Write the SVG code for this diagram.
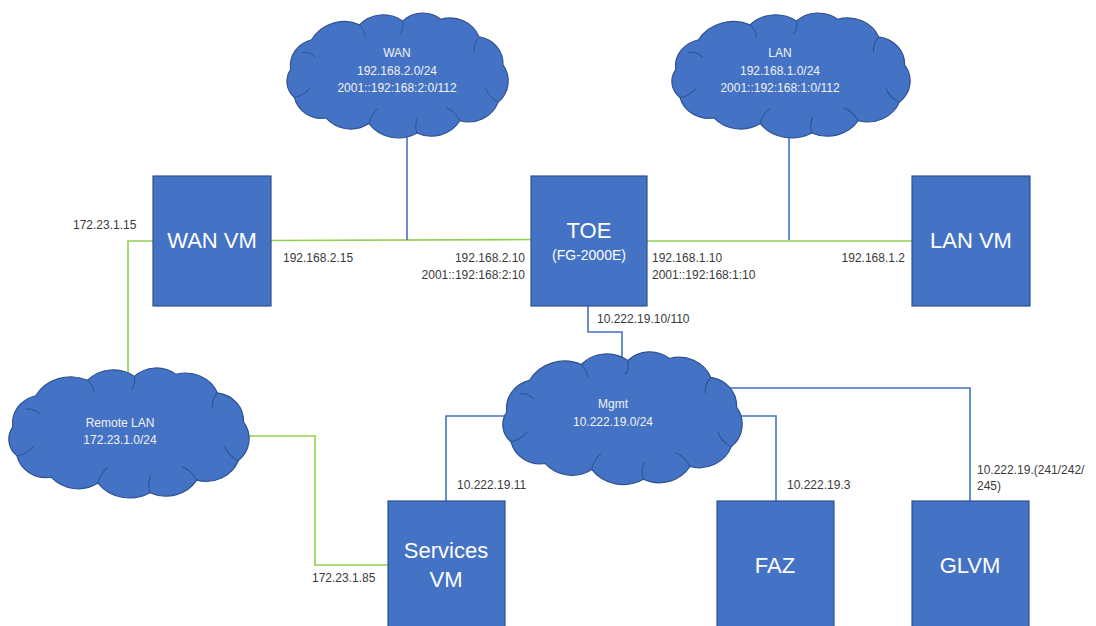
<svg xmlns="http://www.w3.org/2000/svg" width="1096" height="626" viewBox="0 0 1096 626">
<style>
.box{fill:#4472C4;stroke:#2F528F;stroke-width:1.2}
.cloud{fill:#4472C4;stroke:#2F528F;stroke-width:1.2;vector-effect:non-scaling-stroke}
.crease{fill:none;stroke:#2F528F;stroke-width:1;vector-effect:non-scaling-stroke}
.g{fill:none;stroke:#92D050;stroke-width:1.6}
.b{fill:none;stroke:#4472C4;stroke-width:1.6}
.lbl{font-family:"Liberation Sans",Arial,sans-serif;font-size:12px;fill:#3a3a3a}
.big{font-family:"Liberation Sans",Arial,sans-serif;font-size:22px;fill:#ffffff;text-anchor:middle}
.mid{font-family:"Liberation Sans",Arial,sans-serif;font-size:14px;fill:#ffffff;text-anchor:middle}
.ct{font-family:"Liberation Sans",Arial,sans-serif;font-size:12px;fill:#f2f2f2;text-anchor:middle}
</style>
<defs>
<path id="cloudShape" d="M8,60 A29,29 0 0 1 30,28 A39,39 0 0 1 80,12 A34,34 0 0 1 125,8 A30,30 0 0 1 165,6 A33,33 0 0 1 205,25 A29,29 0 0 1 230,55 A30,30 0 0 1 225,95 A33,33 0 0 1 185,115 A35,35 0 0 1 140,128 A38,38 0 0 1 90,118 A34,34 0 0 1 45,112 A29,29 0 0 1 12,90 A23,23 0 0 1 8,60 Z"/>
<path id="cloudCrease" d="M20,42 Q28,40 34,47 M12,90 Q22,88 28,80 M90,118 Q92,108 99,102 M140,128 Q137,119 141,111 M185,115 Q180,105 171,101 M225,95 Q215,90 212,80 M205,25 Q199,32 200,41 M125,8 Q127,16 122,22 M80,12 Q86,18 86,25"/>
</defs>
<rect width="1096" height="626" fill="#ffffff"/>
<g id="connectors">
<polyline class="g" points="271,240.5 531,239.5"/>
<polyline class="g" points="647,241 912,241"/>
<polyline class="b" points="407,110 407,240"/>
<polyline class="b" points="789,110 789,240"/>
<polyline class="g" points="153,241 128,241 128,400"/>
<polyline class="g" points="220,436 315,436 315,565 388,565"/>
<polyline class="b" points="588,306 588,332 622,332 622,380"/>
<polyline class="b" points="530,416 446,416 446,501"/>
<polyline class="b" points="720,388 970,388 970,501"/>
<polyline class="b" points="720,416 776,416 776,501"/>
</g>
<g id="wan-cloud">
<g transform="translate(282.9,13.6) scale(0.957,0.932)"><use href="#cloudShape" class="cloud"/><use href="#cloudCrease" class="crease"/></g>
<text class="ct" x="397" y="57">WAN</text>
<text class="ct" x="397" y="75">192.168.2.0/24</text>
<text class="ct" x="397" y="92">2001::192:168:2:0/112</text>
</g>
<g id="lan-cloud">
<g transform="translate(667.6,13.6) scale(1.03,0.932)"><use href="#cloudShape" class="cloud"/><use href="#cloudCrease" class="crease"/></g>
<text class="ct" x="780" y="57">LAN</text>
<text class="ct" x="780" y="75">192.168.1.0/24</text>
<text class="ct" x="780" y="92">2001::192:168:1:0/112</text>
</g>
<g id="remote-lan-cloud">
<g transform="translate(4.5,368.6) scale(1.039,0.97)"><use href="#cloudShape" class="cloud"/><use href="#cloudCrease" class="crease"/></g>
<text class="ct" x="120" y="427">Remote LAN</text>
<text class="ct" x="120" y="444">172.23.1.0/24</text>
</g>
<g id="mgmt-cloud">
<g transform="translate(498.5,352.6) scale(1.035,0.99)"><use href="#cloudShape" class="cloud"/><use href="#cloudCrease" class="crease"/></g>
<text class="ct" x="613" y="408">Mgmt</text>
<text class="ct" x="613" y="426">10.222.19.0/24</text>
</g>
<g id="wan-vm">
<rect class="box" x="153" y="176" width="118" height="130"/>
<text class="big" x="212" y="248">WAN VM</text>
</g>
<g id="toe">
<rect class="box" x="531" y="176" width="116" height="130"/>
<text class="big" x="589" y="238">TOE</text>
<text class="mid" x="589" y="260">(FG-2000E)</text>
</g>
<g id="lan-vm">
<rect class="box" x="912" y="176" width="118" height="130"/>
<text class="big" x="971" y="248">LAN VM</text>
</g>
<g id="services-vm">
<rect class="box" x="388" y="501" width="117" height="132"/>
<text class="big" x="446" y="558">Services</text>
<text class="big" x="446" y="587">VM</text>
</g>
<g id="faz">
<rect class="box" x="717" y="501" width="117" height="132"/>
<text class="big" x="775" y="573">FAZ</text>
</g>
<g id="glvm">
<rect class="box" x="912" y="501" width="117" height="132"/>
<text class="big" x="970" y="573">GLVM</text>
</g>
<g id="labels">
<text class="lbl" x="73" y="229">172.23.1.15</text>
<text class="lbl" x="283" y="262">192.168.2.15</text>
<text class="lbl" x="525" y="262" text-anchor="end">192.168.2.10</text>
<text class="lbl" x="525" y="279" text-anchor="end">2001::192:168:2:10</text>
<text class="lbl" x="652" y="262">192.168.1.10</text>
<text class="lbl" x="652" y="279">2001::192:168:1:10</text>
<text class="lbl" x="905" y="262" text-anchor="end">192.168.1.2</text>
<text class="lbl" x="597" y="323">10.222.19.10/110</text>
<text class="lbl" x="457" y="489">10.222.19.11</text>
<text class="lbl" x="787" y="489">10.222.19.3</text>
<text class="lbl" x="977" y="474">10.222.19.(241/242/</text>
<text class="lbl" x="977" y="490">245)</text>
<text class="lbl" x="312" y="582">172.23.1.85</text>
</g>
</svg>
